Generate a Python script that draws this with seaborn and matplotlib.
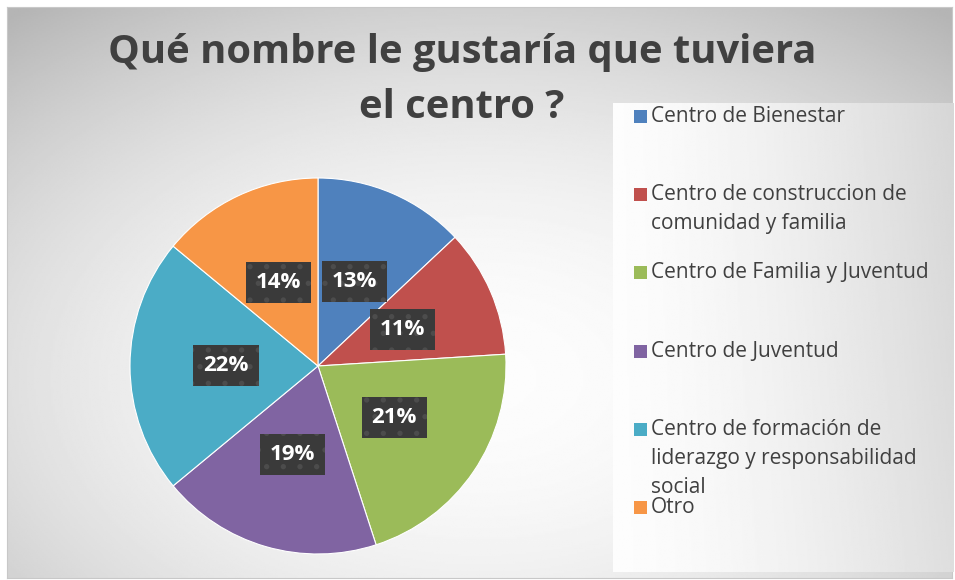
import numpy as np
import matplotlib
matplotlib.use("Agg")
import matplotlib.pyplot as plt
import matplotlib.patches as mpatches
import seaborn as sns

sns.set_theme(style="white")
plt.rcParams["font.family"] = ["Open Sans", "DejaVu Sans"]
plt.rcParams["hatch.linewidth"] = 1.4

TITLE_LINES = ["Qué nombre le gustaría que tuviera", "el centro ?"]
CATEGORIES = [
    "Centro de Bienestar",
    "Centro de construccion de\ncomunidad y familia",
    "Centro de Familia y Juventud",
    "Centro de Juventud",
    "Centro de formación de\nliderazgo y responsabilidad\nsocial",
    "Otro",
]
SHARES = [13, 11, 21, 19, 22, 14]
COLORS = sns.color_palette(["#4F81BD", "#C0504D", "#9BBB59", "#8064A2", "#4BACC6", "#F79646"])

W, H = 955, 580
fig = plt.figure(figsize=(W / 100, H / 100), dpi=100, facecolor="white")

# chart area background: radial grey gradient
bg = fig.add_axes([7 / W, 2 / H, 945 / W, 571 / H])
yy, xx = np.mgrid[-1:1:300j, -1:1:500j]
rr = np.sqrt((xx * 0.9) ** 2 + ((yy + 0.3) * 0.85) ** 2)
bg.imshow(0.99 - 0.2 * np.clip(rr, 0, 1.4) ** 2 / 1.4, cmap="gray", vmin=0, vmax=1,
          aspect="auto", extent=[0, 1, 0, 1], origin="lower")
bg.set_xlim(0, 1)
bg.set_ylim(0, 1)
bg.set_xticks([])
bg.set_yticks([])
for s in bg.spines.values():
    s.set_color("#c8c8c8")
    s.set_linewidth(0.8)

# legend panel
lg = fig.add_axes([613 / W, 8 / H, 340 / W, 469 / H])
gx = np.linspace(0, 1, 200)[None, :] * np.ones((100, 1))
gy = np.linspace(0, 1, 100)[:, None] * np.ones((1, 200))
lg.imshow(0.99 - 0.12 * gx ** 1.5 - 0.03 * gy * gx, cmap="gray", vmin=0, vmax=1,
          aspect="auto", extent=[0, 1, 0, 1], origin="lower")
lg.set_xlim(0, 1)
lg.set_ylim(0, 1)
lg.axis("off")

# pie
ax = fig.add_axes([130 / W, 26 / H, 376 / W, 376 / H])
wedges, _, autotexts = ax.pie(
    SHARES, colors=COLORS, startangle=90, counterclock=False, radius=1,
    autopct="%d%%", pctdistance=0.49,
    wedgeprops=dict(edgecolor="white", linewidth=0.8),
    textprops=dict(color="white", fontsize=16, fontweight="bold"),
)
for t in autotexts:
    t.set_bbox(dict(boxstyle="square,pad=0.45", facecolor="#3a3a3a",
                    edgecolor="#4c4c4c", linewidth=0, hatch="."))
ax.set_xlim(-1, 1)
ax.set_ylim(-1, 1)

# title, one text per line
for line, yc in zip(TITLE_LINES, [52, 108]):
    fig.text(462 / W, 1 - yc / H, line, ha="center", va="center", fontsize=28.7,
             fontweight="bold", color="#404040")

# legend entries at fixed spacing
for i, (lab, col) in enumerate(zip(CATEGORIES, COLORS)):
    ytop = 106 + i * 78.2
    fig.patches.append(mpatches.Rectangle(
        (634 / W, 1 - (ytop + 17) / H), 13 / W, 13 / H,
        transform=fig.transFigure, facecolor=col, edgecolor="none"))
    fig.text(651 / W, 1 - ytop / H, lab, ha="left", va="top", fontsize=15,
             color="#404040", linespacing=1.5)

fig.savefig("out.png", dpi=100, facecolor="white")
